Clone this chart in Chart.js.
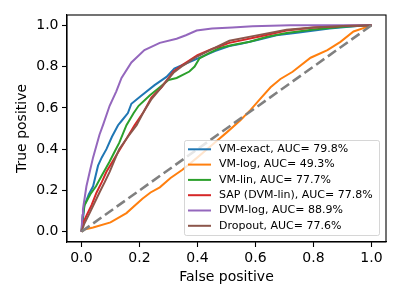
<!doctype html>
<html lang="en">
  <head>
    <meta charset="utf-8">
    <title>ROC curves</title>
    <style>
      * { margin: 0; padding: 0; }
      body { background: #fff; }
      .chartBox { width: 400px; height: 300px; }
    </style>
  </head>
  <body>
    <div class="chartBox">
      <canvas id="myChart" width="400" height="300"></canvas>
    </div>

    <script src="https://cdn.jsdelivr.net/npm/chart.js"></script>
    <script>
    // setup - values
    const seriesNames = ['VM-exact, AUC= 79.8%', 'VM-log, AUC= 49.3%', 'VM-lin, AUC= 77.7%',
                         'SAP (DVM-lin), AUC= 77.8%', 'DVM-log, AUC= 88.9%', 'Dropout, AUC= 77.6%'];
    const seriesColors = ['#1f77b4', '#ff7f0e', '#2ca02c', '#d62728', '#9467bd', '#8c564b'];

    const exactFpr = [0, 0.005, 0.01, 0.025, 0.04, 0.057, 0.07, 0.086, 0.105, 0.126, 0.14, 0.16, 0.172, 0.207, 0.252, 0.293, 0.32, 0.36, 0.41, 0.46, 0.51, 0.55, 0.61, 0.672, 0.75, 0.855, 0.95, 1];
    const exactTpr = [0, 0.06, 0.127, 0.18, 0.22, 0.32, 0.36, 0.40, 0.46, 0.516, 0.54, 0.575, 0.62, 0.66, 0.71, 0.75, 0.79, 0.815, 0.845, 0.875, 0.9, 0.91, 0.93, 0.952, 0.965, 0.985, 0.997, 1];

    const logFpr = [0, 0.01, 0.04, 0.1, 0.155, 0.21, 0.238, 0.27, 0.307, 0.348, 0.4, 0.45, 0.5, 0.548, 0.583, 0.617, 0.652, 0.686, 0.728, 0.79, 0.848, 0.893, 0.938, 0.98, 1];
    const logTpr = [0, 0.01, 0.02, 0.045, 0.09, 0.16, 0.19, 0.215, 0.26, 0.30, 0.36, 0.42, 0.48, 0.54, 0.59, 0.645, 0.70, 0.74, 0.775, 0.843, 0.88, 0.92, 0.97, 0.99, 1];

    const linFpr = [0, 0.003, 0.01, 0.03, 0.05, 0.069, 0.085, 0.097, 0.115, 0.13, 0.155, 0.18, 0.197, 0.235, 0.27, 0.30, 0.328, 0.372, 0.39, 0.407, 0.44, 0.476, 0.52, 0.58, 0.64, 0.707, 0.8, 0.9, 1];
    const linTpr = [0, 0.06, 0.127, 0.18, 0.22, 0.27, 0.31, 0.34, 0.39, 0.43, 0.516, 0.575, 0.61, 0.66, 0.70, 0.735, 0.745, 0.776, 0.80, 0.84, 0.865, 0.89, 0.905, 0.92, 0.945, 0.963, 0.98, 0.993, 1];

    const sapFpr = [0, 0.005, 0.017, 0.035, 0.052, 0.07, 0.086, 0.12, 0.155, 0.183, 0.214, 0.241, 0.276, 0.317, 0.35, 0.40, 0.45, 0.51, 0.614, 0.707, 0.8, 0.9, 1];
    const sapTpr = [0, 0.04, 0.078, 0.13, 0.19, 0.24, 0.29, 0.37, 0.45, 0.516, 0.58, 0.65, 0.70, 0.776, 0.81, 0.855, 0.885, 0.915, 0.946, 0.975, 0.99, 0.997, 1];

    const dvmFpr = [0, 0.003, 0.005, 0.017, 0.03, 0.04, 0.062, 0.075, 0.097, 0.12, 0.138, 0.172, 0.217, 0.27, 0.328, 0.36, 0.397, 0.45, 0.52, 0.59, 0.72, 1];
    const dvmTpr = [0, 0.08, 0.11, 0.22, 0.30, 0.36, 0.47, 0.52, 0.61, 0.68, 0.745, 0.82, 0.88, 0.915, 0.935, 0.952, 0.975, 0.985, 0.99, 0.995, 1, 1];

    const dropFpr = [0, 0.01, 0.028, 0.045, 0.062, 0.08, 0.097, 0.115, 0.13, 0.16, 0.19, 0.214, 0.24, 0.276, 0.317, 0.35, 0.40, 0.45, 0.51, 0.6, 0.707, 0.8, 0.9, 1];
    const dropTpr = [0, 0.04, 0.09, 0.14, 0.19, 0.24, 0.29, 0.35, 0.40, 0.46, 0.516, 0.58, 0.64, 0.70, 0.77, 0.805, 0.85, 0.885, 0.925, 0.95, 0.978, 0.99, 0.997, 1];

    const chanceFpr = [0, 1];
    const chanceTpr = [0, 1];

    const xTicks = [0, 0.2, 0.4, 0.6, 0.8, 1.0];
    const yTicks = [0, 0.2, 0.4, 0.6, 0.8, 1.0];

    const curves = [
      [exactFpr, exactTpr], [logFpr, logTpr], [linFpr, linTpr],
      [sapFpr, sapTpr], [dvmFpr, dvmTpr], [dropFpr, dropTpr]
    ];

    const toPoints = (xs, ys) => xs.map((x, i) => ({ x: x, y: ys[i] }));

    const datasets = curves.map((c, i) => ({
      label: seriesNames[i],
      data: toPoints(c[0], c[1]),
      borderColor: seriesColors[i],
      borderWidth: 2,
      pointRadius: 0,
      tension: 0,
      order: 7 - i   // later matplotlib series sit on top
    }));
    datasets.push({
      label: 'chance',
      data: toPoints(chanceFpr, chanceTpr),
      borderColor: '#808080',
      borderWidth: 2.6,
      borderDash: [10, 4.4],
      pointRadius: 0,
      order: 0
    });

    const font = 'DejaVu Sans';

    // frame around plot + legend inside the axes (lower right)
    const frameAndLegend = {
      id: 'frameAndLegend',
      afterDraw(chart) {
        const { ctx, chartArea: { top, right, bottom, left } } = chart;
        ctx.save();
        ctx.strokeStyle = '#000';
        ctx.lineWidth = 1.1;
        ctx.strokeRect(left, top, right - left, bottom - top);

        // legend box
        const bx = 184, by = 140, bw = 195, bh = 95;
        ctx.fillStyle = 'rgba(255,255,255,0.8)';
        ctx.strokeStyle = 'rgba(204,204,204,0.8)';
        ctx.lineWidth = 1;
        ctx.beginPath();
        ctx.roundRect(bx + 0.5, by + 0.5, bw, bh, 2);
        ctx.fill();
        ctx.stroke();

        ctx.font = '11px "' + font + '"';
        ctx.textBaseline = 'middle';
        ctx.textAlign = 'left';
        seriesNames.forEach((name, i) => {
          const ry = 149.3 + i * 15.3;
          ctx.strokeStyle = seriesColors[i];
          ctx.lineWidth = 2;
          ctx.beginPath();
          ctx.moveTo(188, ry);
          ctx.lineTo(211, ry);
          ctx.stroke();
          ctx.fillStyle = '#000';
          ctx.fillText(name, 219, ry);
        });
        ctx.restore();
      }
    };

    // config
    const config = {
      type: 'line',
      data: { datasets },
      options: {
        responsive: false,
        animation: false,
        layout: { padding: { top: 15, right: 14, left: 0, bottom: 0 } },
        plugins: { legend: { display: false }, tooltip: { enabled: false } },
        scales: {
          x: {
            type: 'linear',
            min: -0.05,
            max: 1.05,
            afterFit(scale) { scale.height = 58; },
            afterBuildTicks(scale) { scale.ticks = xTicks.map(v => ({ value: v })); },
            grid: { drawOnChartArea: false, tickLength: 5, tickColor: '#000', tickWidth: 1.1 },
            border: { display: true, color: '#000', width: 1.1 },
            ticks: {
              color: '#000', padding: 3, maxRotation: 0,
              font: { family: font, size: 14 },
              callback: v => v.toFixed(1)
            },
            title: {
              display: true, text: 'False positive', color: '#000',
              font: { family: font, size: 14 },
              padding: { top: 0, bottom: 14.6 }
            }
          },
          y: {
            type: 'linear',
            min: -0.05,
            max: 1.05,
            afterFit(scale) { scale.width = 67; },
            afterBuildTicks(scale) { scale.ticks = yTicks.map(v => ({ value: v })); },
            grid: { drawOnChartArea: false, tickLength: 5, tickColor: '#000', tickWidth: 1.1 },
            border: { display: true, color: '#000', width: 1.1 },
            ticks: {
              color: '#000', padding: 3.5,
              font: { family: font, size: 14 },
              callback: v => v.toFixed(1)
            },
            title: {
              display: true, text: 'True positive', color: '#000',
              font: { family: font, size: 14 },
              padding: { top: 13.6, bottom: 0 }
            }
          }
        }
      },
      plugins: [frameAndLegend]
    };

    // render init block
    const myChart = new Chart(document.getElementById('myChart'), config);
    </script>
  </body>
</html>
